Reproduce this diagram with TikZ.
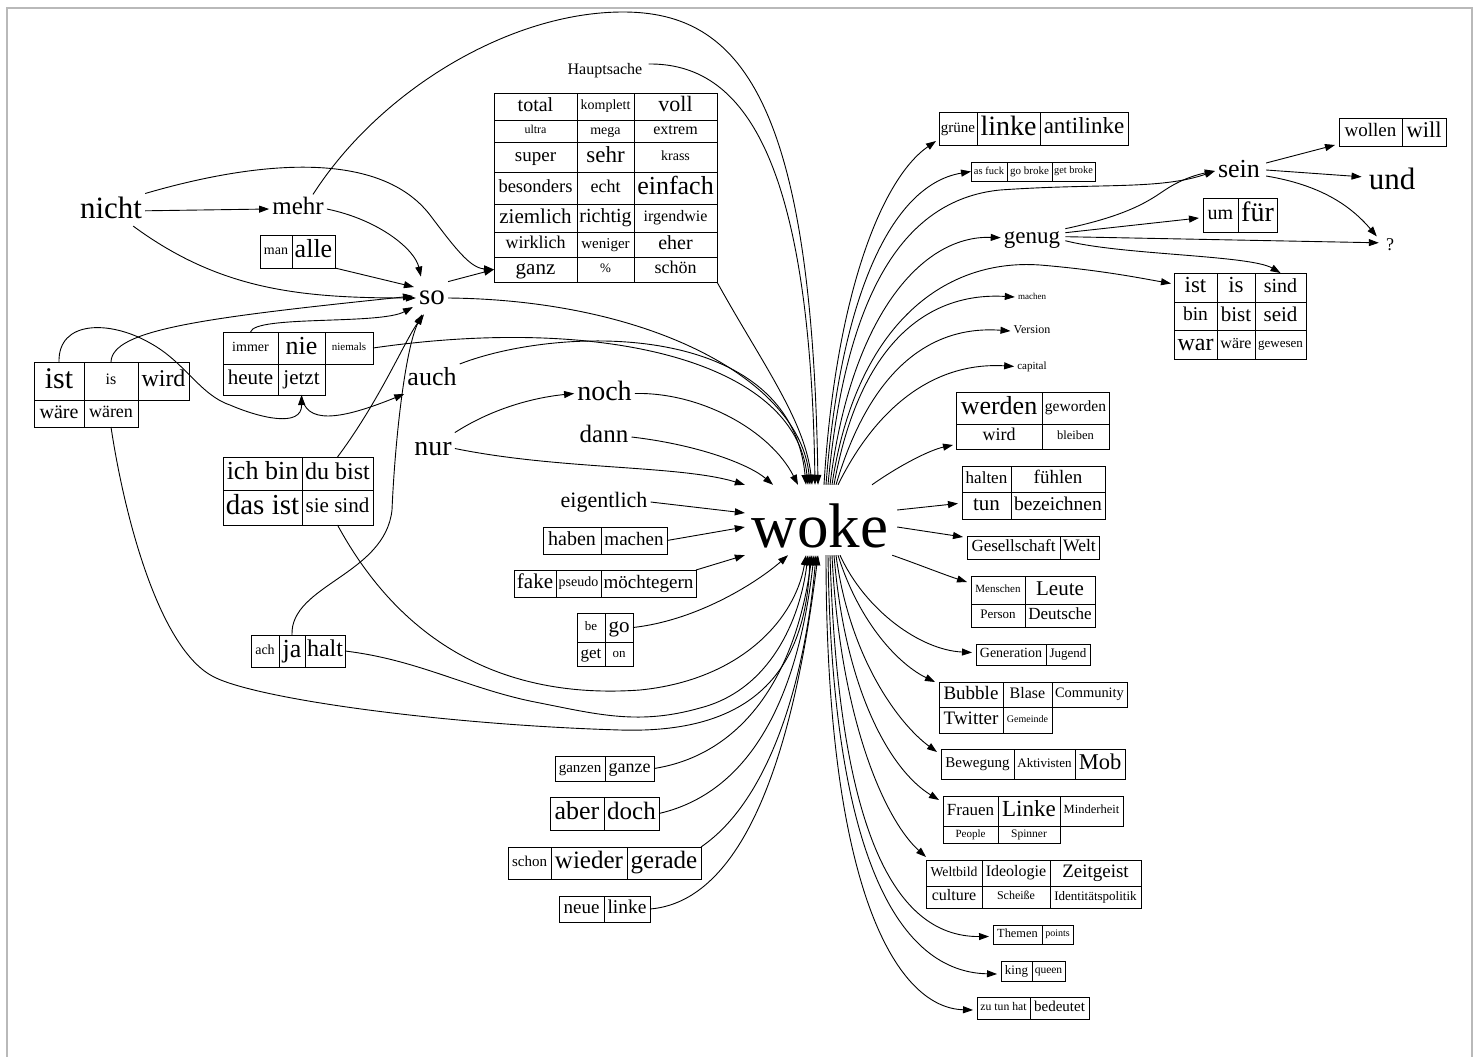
\documentclass[tikz,border=0pt]{standalone}
\usepackage{fontspec}
\setmainfont{Liberation Serif}
\usetikzlibrary{arrows.meta,calc}
\newcommand\myfs[1]{\fontsize{#1}{#1}\selectfont}
\newcommand\cellat[7]{\node[cellsty,minimum width={(#4-#2)*1pt},minimum height={(#5-#3)*1pt}] (#1) at ({(#2+#4)/2},{(#3+#5)/2}) {\myfs{#6}\vphantom{hg}#7};}
\newcommand\word[5]{\node[txt] (#1) at (#2,#3) {\myfs{#4}\vphantom{hg}#5};}
\begin{document}
\begin{tikzpicture}[x=1pt,y=-1pt,
  cellsty/.style={draw,line width=0.9pt,inner sep=0pt,outer sep=0pt},
  txt/.style={inner sep=3pt},
  arr/.style={line width=0.9pt,-{Triangle[length=10pt,width=7pt]}}]
\useasboundingbox (0,0) rectangle (1480,1057);
\draw[gray!55,line width=1.5pt] (7,1060) -- (7,8) -- (1472,8) -- (1472,1060);

% ---------- free words ----------
\word{nicht}{111}{210.8}{31}{nicht}
\word{mehr}{298}{209}{25}{mehr}
\word{so}{432}{298}{29}{so}
\word{auch}{432}{379}{26}{auch}
\word{nur}{433}{448.5}{28}{nur}
\word{noch}{604.5}{393.5}{28}{noch}
\word{dann}{604}{437}{25}{dann}
\word{eigentlich}{604}{502}{22}{eigentlich}
\word{hauptsache}{605}{71}{16}{Hauptsache}
\word{genug}{1032}{237.7}{23}{genug}
\word{machenw}{1032}{297}{9}{machen}
\word{version}{1032}{331}{12}{Version}
\word{capital}{1032}{366.4}{11}{capital}
\word{sein}{1239}{171}{26}{sein}
\word{und}{1392}{181.8}{31}{und}
\word{qm}{1390}{245.8}{18}{?}
\node[inner sep=0pt,minimum width=150pt,text height=62pt,text depth=8pt] (woke) at (820,520) {\myfs{63}woke};

% ---------- left boxes ----------
\cellat{ist}{34}{362}{84}{400}{30}{ist}
\cellat{is}{84}{362}{138}{400}{16}{is}
\cellat{wird}{138}{362}{189}{400}{24}{wird}
\cellat{waere}{34}{400}{84}{427}{20}{wäre}
\cellat{waeren}{84}{400}{138}{427}{18}{wären}

\cellat{immer}{223}{332}{278}{364}{14}{immer}
\cellat{nie}{278}{332}{325}{364}{26}{nie}
\cellat{niemals}{325}{332}{373}{364}{11}{niemals}
\cellat{heute}{223}{364}{278}{395}{21}{heute}
\cellat{jetzt}{278}{364}{325}{395}{21}{jetzt}

\cellat{man}{260}{235}{292}{268}{14}{man}
\cellat{alle}{292}{235}{335}{268}{26}{alle}

\cellat{ichbin}{223}{457}{302}{490}{26}{ich bin}
\cellat{dubist}{302}{457}{373}{490}{24}{du bist}
\cellat{dasist}{223}{490}{302}{525}{29}{das ist}
\cellat{siesind}{302}{490}{373}{525}{21}{sie sind}

\cellat{ach}{251}{635}{279}{667}{14}{ach}
\cellat{ja}{279}{635}{305}{667}{26}{ja}
\cellat{halt}{305}{635}{345}{667}{24}{halt}

% big table
\cellat{total}{494}{93}{577}{120}{20}{total}
\cellat{komplett}{577}{93}{634}{120}{14}{komplett}
\cellat{voll}{634}{93}{717}{120}{22}{voll}
\cellat{ultra}{494}{120}{577}{142}{12}{ultra}
\cellat{mega}{577}{120}{634}{142}{14}{mega}
\cellat{extrem}{634}{120}{717}{142}{16}{extrem}
\cellat{super}{494}{142}{577}{172}{19}{super}
\cellat{sehr}{577}{142}{634}{172}{23}{sehr}
\cellat{krass}{634}{142}{717}{172}{14}{krass}
\cellat{besonders}{494}{172}{577}{204}{18.5}{besonders}
\cellat{echt}{577}{172}{634}{204}{18}{echt}
\cellat{einfach}{634}{172}{717}{204}{26}{einfach}
\cellat{ziemlich}{494}{204}{577}{232}{21}{ziemlich}
\cellat{richtig}{577}{204}{634}{232}{20}{richtig}
\cellat{irgendwie}{634}{204}{717}{232}{16}{irgendwie}
\cellat{wirklich}{494}{232}{577}{257}{18}{wirklich}
\cellat{weniger}{577}{232}{634}{257}{15}{weniger}
\cellat{eher}{634}{232}{717}{257}{20}{eher}
\cellat{ganz}{494}{257}{577}{282}{21}{ganz}
\cellat{pct}{577}{257}{634}{282}{13}{\%}
\cellat{schoen}{634}{257}{717}{282}{18}{schön}

% center-left boxes
\cellat{haben}{543}{527}{601}{554}{20}{haben}
\cellat{machen}{601}{527}{667}{554}{19}{machen}
\cellat{fake}{514}{570}{556}{597}{21}{fake}
\cellat{pseudo}{556}{570}{601}{597}{14}{pseudo}
\cellat{moechtegern}{601}{570}{696}{597}{19}{möchtegern}
\cellat{be}{577}{613}{605}{642}{13}{be}
\cellat{go}{605}{613}{633}{642}{21}{go}
\cellat{get}{577}{642}{605}{666}{17}{get}
\cellat{on}{605}{642}{633}{666}{13}{on}

\cellat{ganzen}{555}{756}{605}{781}{15}{ganzen}
\cellat{ganze}{605}{756}{654}{781}{18}{ganze}
\cellat{aber}{550}{797}{604}{830}{26}{aber}
\cellat{doch}{604}{797}{659}{830}{25}{doch}
\cellat{schon}{508}{847}{551}{879}{15}{schon}
\cellat{wieder}{551}{847}{627}{879}{25}{wieder}
\cellat{gerade}{627}{847}{701}{879}{25}{gerade}
\cellat{neue}{559}{896}{604}{922}{19}{neue}
\cellat{linkeb}{604}{896}{650}{922}{19.5}{linke}

% ---------- right boxes ----------
\cellat{gruene}{939}{112}{977}{145}{15}{grüne}
\cellat{linkea}{977}{112}{1040}{145}{28}{linke}
\cellat{antilinke}{1040}{112}{1128}{145}{23}{antilinke}
\cellat{asfuck}{971}{162}{1007}{181}{10.5}{as fuck}
\cellat{gobroke}{1007}{162}{1052}{181}{11}{go broke}
\cellat{getbroke}{1052}{162}{1095}{181}{10.3}{get broke}

\cellat{wollen}{1339}{118}{1402}{146}{19}{wollen}
\cellat{will}{1402}{118}{1446}{146}{22.5}{will}
\cellat{um}{1203}{198}{1238}{232}{20}{um}
\cellat{fuer}{1238}{198}{1277}{232}{28}{für}

\cellat{istb}{1174}{273}{1217}{302}{23}{ist}
\cellat{isb}{1217}{273}{1255}{302}{23}{is}
\cellat{sind}{1255}{273}{1306}{302}{20}{sind}
\cellat{bin}{1174}{302}{1217}{330}{19.5}{bin}
\cellat{bist}{1217}{302}{1255}{330}{21}{bist}
\cellat{seid}{1255}{302}{1306}{330}{21}{seid}
\cellat{war}{1174}{330}{1217}{359}{24}{war}
\cellat{waereb}{1217}{330}{1255}{359}{16}{wäre}
\cellat{gewesen}{1255}{330}{1306}{359}{13}{gewesen}

\cellat{werden}{956}{392}{1042}{424}{26}{werden}
\cellat{geworden}{1042}{392}{1109}{424}{15.5}{geworden}
\cellat{wirdb}{956}{424}{1042}{449}{18}{wird}
\cellat{bleiben}{1042}{424}{1109}{449}{12.5}{bleiben}

\cellat{halten}{962}{466}{1011}{492}{17}{halten}
\cellat{fuehlen}{1011}{466}{1105}{492}{19}{fühlen}
\cellat{tun}{962}{492}{1011}{519}{21}{tun}
\cellat{bezeichnen}{1011}{492}{1105}{519}{19.5}{bezeichnen}

\cellat{gesellschaft}{967}{536}{1060}{559}{17}{Gesellschaft}
\cellat{welt}{1060}{536}{1099}{559}{17.5}{Welt}

\cellat{menschen}{971}{576}{1025}{604}{11}{Menschen}
\cellat{leute}{1025}{576}{1095}{604}{21}{Leute}
\cellat{person}{971}{604}{1025}{627}{13}{Person}
\cellat{deutsche}{1025}{604}{1095}{627}{17}{Deutsche}

\cellat{generation}{976}{644}{1046}{665}{14}{Generation}
\cellat{jugend}{1046}{644}{1090}{665}{13}{Jugend}

\cellat{bubble}{939}{682}{1003}{707}{19}{Bubble}
\cellat{blase}{1003}{682}{1052}{707}{16}{Blase}
\cellat{community}{1052}{682}{1127}{707}{14.4}{Community}
\cellat{twitter}{939}{707}{1003}{733}{19}{Twitter}
\cellat{gemeinde}{1003}{707}{1052}{733}{10}{Gemeinde}

\cellat{bewegung}{941}{749}{1014}{779}{15}{Bewegung}
\cellat{aktivisten}{1014}{749}{1075}{779}{13}{Aktivisten}
\cellat{mob}{1075}{749}{1125}{779}{22.5}{Mob}

\cellat{frauen}{943}{796}{998}{826}{17}{Frauen}
\cellat{linkec}{998}{796}{1060}{826}{23}{Linke}
\cellat{minderheit}{1060}{796}{1123}{826}{12.5}{Minderheit}
\cellat{people}{943}{826}{998}{843}{11}{People}
\cellat{spinner}{998}{826}{1060}{843}{11.5}{Spinner}

\cellat{weltbild}{926}{860}{982}{886}{13.7}{Weltbild}
\cellat{ideologie}{982}{860}{1050}{886}{16}{Ideologie}
\cellat{zeitgeist}{1050}{860}{1141}{886}{19}{Zeitgeist}
\cellat{culture}{926}{886}{982}{908}{16}{culture}
\cellat{scheisse}{982}{886}{1050}{908}{12}{Scheiße}
\cellat{identitaet}{1050}{886}{1141}{908}{13}{Identitätspolitik}

\cellat{themen}{993}{925}{1042}{944}{12.4}{Themen}
\cellat{points}{1042}{925}{1073}{944}{10}{points}
\cellat{king}{1001}{961}{1032}{981}{13}{king}
\cellat{queen}{1032}{961}{1065}{981}{11.5}{queen}
\cellat{zutun}{977}{997}{1030}{1019}{11.7}{zu tun hat}
\cellat{bedeutet}{1030}{997}{1089}{1019}{15}{bedeutet}

% ---------- connectors: left cluster ----------
\draw[arr] (nicht.east) -- (mehr.west);
\draw[arr] ($(nicht.south east)+(-12,-2)$) .. controls (220,290) and (300,298) .. (so.west);
\draw[arr] (nicht.north east) .. controls (260,160) and (380,150) .. (430,215) .. controls (455,248) and (470,268) .. (ganz.west);
\draw[arr] (so.north east) -- (ganz.west);
\draw[arr] (mehr.east) .. controls (380,220) and (415,250) .. ($(so.north west)+(5,-5)$);
\draw[arr] ($(mehr.north)+(15,0)$) .. controls (380,90) and (510,12) .. (623,12) .. controls (740,12) and (812,100) .. ($(woke.north)+(-2,0)$);
\draw[arr] (alle.south east) -- ($(so.west)+(-2,-11)$);
\draw[arr] (is.north) .. controls (112,330) and (200,318) .. ($(so.west)+(-3,-2)$);
\draw[arr] (ist.north) .. controls (58,320) and (110,320) .. (150,343) .. controls (185,362) and (200,395) .. (230,405) .. controls (260,418) and (302,428) .. (jetzt.south);
\draw[arr] (jetzt.south) .. controls (305,425) and (340,420) .. (auch.south west);
\draw[arr] (immer.north) .. controls (255,315) and (380,325) .. ($(so.west)+(-3,9)$);
\draw[arr] (niemals.east) .. controls (600,315) and (795,360) .. ($(woke.north)+(-12,0)$);
\draw[arr] (auch.north east) .. controls (560,325) and (790,320) .. ($(woke.north)+(-14,0)$);
\draw[arr] (nur.north east) .. controls (490,410) and (530,398) .. (noch.west);
\draw[arr] (nur.east) .. controls (560,470) and (680,465) .. (woke.north west);
\draw[arr] (noch.east) .. controls (700,392) and (770,430) .. ($(woke.north)+(-22,0)$);
\draw[arr] (dann.east) .. controls (700,445) and (750,465) .. ($(woke.north)+(-47,0)$);
\draw[arr] (eigentlich.east) -- ($(woke.west)+(0,-7)$);
\draw[arr] (machen.east) -- ($(woke.west)+(0,7)$);
\draw[arr] (moechtegern.north east) -- (woke.south west);
\draw[arr] (go.east) .. controls (700,620) and (760,580) .. ($(woke.south)+(-32,0)$);
\draw[arr] (dubist.north) .. controls (380,400) and (405,340) .. ($(so.south)+(-8,0)$);
\draw[arr] (ja.north) .. controls (290,585) and (385,575) .. (392,510) .. controls (395,440) and (405,350) .. ($(so.south)+(-10,0)$);
\draw[arr] (siesind.south) .. controls (400,640) and (500,700) .. (640,690) .. controls (740,680) and (795,620) .. ($(woke.south)+(-14,0)$);
\draw[arr] (halt.east) .. controls (420,660) and (470,690) .. (540,703) .. controls (600,715) and (640,725) .. (700,708) .. controls (770,690) and (800,620) .. ($(woke.south)+(-12,0)$);
\draw[arr] (waeren.south) .. controls (125,520) and (160,650) .. (214,677) .. controls (260,700) and (450,725) .. (620,730) .. controls (720,733) and (805,700) .. ($(woke.south)+(-10,0)$);
\draw[arr] ($(hauptsache.east)+(3,-7)$) .. controls (740,63) and (810,150) .. ($(woke.north)+(-5,0)$);
\draw[arr] (schoen.south east) .. controls (760,360) and (805,420) .. ($(woke.north)+(-8,0)$);
\draw[arr] (so.east) .. controls (650,300) and (800,380) .. ($(woke.north)+(-10,0)$);
\draw[arr] (ganze.east) .. controls (740,755) and (795,680) .. ($(woke.south)+(-8,0)$);
\draw[arr] (doch.east) .. controls (760,790) and (800,680) .. ($(woke.south)+(-6,0)$);
\draw[arr] (gerade.north east) .. controls (770,800) and (805,680) .. ($(woke.south)+(-4,0)$);
\draw[arr] (linkeb.east) .. controls (760,900) and (800,700) .. ($(woke.south)+(-2,0)$);

% ---------- connectors: right ----------
\draw[arr] ($(woke.north)+(4,0)$) .. controls (835,300) and (880,180) .. ($(gruene.south west)+(-3,-4)$);
\draw[arr] ($(woke.north)+(6,0)$) .. controls (840,300) and (890,185) .. (asfuck.west);
\draw[arr] ($(woke.north)+(8,0)$) .. controls (845,300) and (900,200) .. (1000,190) .. controls (1100,183) and (1160,190) .. (sein.west);
\draw[arr] ($(woke.north)+(10,0)$) .. controls (850,320) and (920,235) .. (genug.west);
\draw[arr] ($(woke.north)+(12,0)$) .. controls (855,330) and (940,258) .. (1040,265) .. controls (1100,270) and (1140,278) .. ($(istb.west)+(-3,-4)$);
\draw[arr] ($(woke.north)+(14,0)$) .. controls (860,340) and (930,292) .. (machenw.west);
\draw[arr] ($(woke.north)+(16,0)$) .. controls (870,370) and (930,325) .. (version.west);
\draw[arr] ($(woke.north)+(18,0)$) .. controls (880,400) and (940,362) .. (capital.west);
\draw[arr] ($(woke.north)+(52,0)$) .. controls (900,465) and (930,450) .. ($(wirdb.south west)+(-3,-4)$);
\draw[arr] ($(woke.east)+(2,-10)$) -- ($(tun.west)+(-4,-2)$);
\draw[arr] ($(woke.east)+(2,7)$) -- ($(gesellschaft.north west)+(-4,1)$);
\draw[arr] ($(woke.south east)+(-3,0)$) .. controls (920,565) and (945,575) .. ($(menschen.north west)+(-4,6)$);
\draw[arr] ($(woke.south)+(20,0)$) .. controls (865,610) and (920,650) .. ($(generation.west)+(-4,-2)$);
\draw[arr] ($(woke.south)+(18,0)$) .. controls (860,625) and (900,665) .. ($(bubble.north west)+(-4,0)$);
\draw[arr] ($(woke.south)+(16,0)$) .. controls (850,660) and (900,725) .. ($(bewegung.north west)+(-4,3)$);
\draw[arr] ($(woke.south)+(14,0)$) .. controls (845,690) and (890,770) .. ($(frauen.north west)+(-4,4)$);
\draw[arr] ($(woke.south)+(12,0)$) .. controls (840,720) and (885,820) .. ($(weltbild.north west)+(0,-3)$);
\draw[arr] ($(woke.south)+(10,0)$) .. controls (838,820) and (890,937) .. ($(themen.west)+(-4,2)$);
\draw[arr] ($(woke.south)+(8,0)$) .. controls (832,860) and (900,972) .. ($(king.west)+(-4,3)$);
\draw[arr] ($(woke.south)+(6,0)$) .. controls (826,900) and (900,1008) .. ($(zutun.west)+(-4,2)$);

\draw[arr] ($(genug.east)+(2,-9)$) .. controls (1130,215) and (1150,200) .. (1165,190) .. controls (1180,180) and (1195,175) .. (sein.west);
\draw[arr] ($(genug.east)+(2,-5)$) -- ($(um.west)+(-4,3)$);
\draw[arr] ($(genug.east)+(2,-1)$) -- ($(qm.west)+(-4,-3)$);
\draw[arr] ($(genug.east)+(2,3)$) .. controls (1120,255) and (1250,255) .. (sind.north);
\draw[arr] ($(sein.east)+(3,-8)$) -- ($(wollen.south west)+(-4,-1)$);
\draw[arr] ($(sein.east)+(3,-1)$) -- ($(und.west)+(-4,-5)$);
\draw[arr] ($(sein.east)+(3,5)$) .. controls (1320,185) and (1350,205) .. ($(qm.north west)+(-6,2)$);
\end{tikzpicture}
\end{document}
